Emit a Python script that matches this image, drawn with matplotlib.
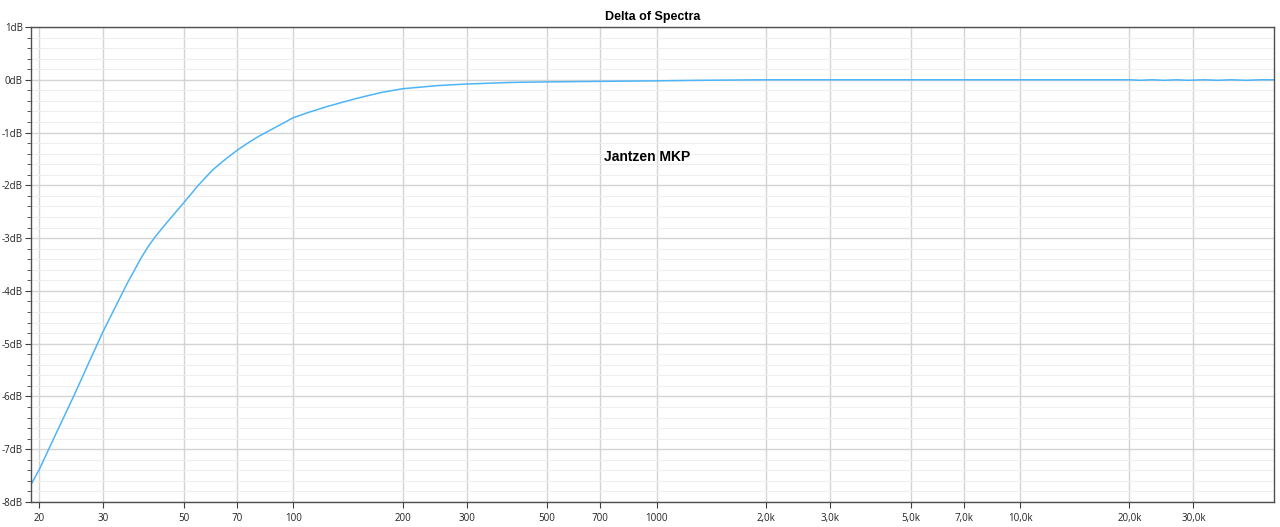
import numpy as np
import matplotlib.pyplot as plt
from matplotlib.ticker import FixedLocator, NullFormatter

plt.rcParams['font.family'] = ['Open Sans', 'DejaVu Sans']

### DATA
freq = [19, 20, 22, 25, 28, 30, 35, 38, 40, 42, 45, 50, 55, 60, 65, 70, 75, 80,
        90, 100, 110, 125, 150, 175, 200, 250, 300, 400, 500, 700, 1000, 1300,
        2000, 5000, 10000, 20000,
        21500, 23000, 25000, 27000, 29000, 32000, 35000, 38000, 42000, 46000, 50000]
delta_db = [-7.67, -7.39, -6.78, -5.97, -5.22, -4.77, -3.85, -3.40, -3.15, -2.95,
            -2.70, -2.33, -1.99, -1.71, -1.51, -1.34, -1.20, -1.08,
            -0.89, -0.72, -0.62, -0.50, -0.35, -0.24, -0.17, -0.11, -0.08,
            -0.05, -0.04, -0.03, -0.02, -0.01,
            0.0, 0.0, 0.0, 0.0,
            -0.01, 0.0, -0.01, 0.0, -0.01, 0.0, -0.01, 0.0, -0.01, 0.0, 0.0]

xtick_vals = [20, 30, 50, 70, 100, 200, 300, 500, 700, 1000,
              2000, 3000, 5000, 7000, 10000, 20000, 30000]
xtick_labels = ['20', '30', '50', '70', '100', '200', '300', '500', '700', '1000',
                '2,0k', '3,0k', '5,0k', '7,0k', '10,0k', '20,0k', '30,0k']
ytick_vals = [1, 0, -1, -2, -3, -4, -5, -6, -7, -8]
ytick_labels = ['%ddB' % v for v in ytick_vals]

title = 'Delta of Spectra'
note = 'Jantzen MKP'

### FIGURE
fig = plt.figure(figsize=(12.8, 5.27), dpi=100)
ax = fig.add_axes([31/1280, 1-502/527, (1274-31)/1280, (502-27)/527])

ax.set_xscale('log')
ax.set_xlim(19, 50000)
ax.set_ylim(-8, 1)

# grid: minor horizontal every 0.2 dB, major every dB, verticals at labelled freqs
minor_y = np.arange(-8, 1.01, 0.2)
ax.yaxis.set_minor_locator(FixedLocator(minor_y))
ax.yaxis.set_minor_formatter(NullFormatter())
ax.set_yticks(ytick_vals)
ax.set_yticklabels(ytick_labels)
ax.xaxis.set_minor_locator(FixedLocator([]))
ax.set_xticks(xtick_vals)
ax.set_xticklabels(xtick_labels)

ax.grid(True, which='major', color='#d4d4d4', linewidth=1.0)
ax.grid(True, which='minor', axis='y', color='#eeeeee', linewidth=0.8)
ax.set_axisbelow(True)

ax.plot(freq, delta_db, color='#4db5f7', linewidth=1.1)

for s in ax.spines.values():
    s.set_color('#505050')
    s.set_linewidth(1.0)

ax.tick_params(axis='both', which='major', length=4, color='#404040',
               labelsize=7, labelcolor='#222222', pad=2)
ax.tick_params(axis='y', which='minor', length=3, color='#404040')
ax.tick_params(axis='x', which='major', pad=4)

ax.set_title(title, fontsize=9, fontweight='bold', pad=5,
             family=['Liberation Sans', 'DejaVu Sans'])
ax.text(942, -1.46, note, fontsize=10, fontweight='bold', ha='center', va='center',
        family=['Liberation Sans', 'DejaVu Sans'])

fig.savefig('out.png', dpi=100)
